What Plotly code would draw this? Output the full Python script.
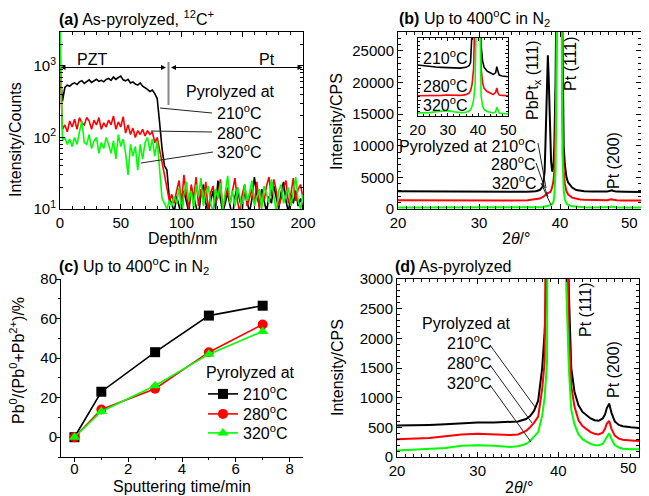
import plotly.graph_objects as go

W, H = 649, 496          # browser window
OFF = 8                  # default page body margin
FW, FH = W - OFF, H - OFF
FONT = "Liberation Sans, Arial, sans-serif"
BLACK, RED, GREEN = "#000000", "#ff0000", "#00ff00"

# ---------------- (a) SIMS depth profile, 12C+ ----------------
depth_a = list(range(0, 202, 2))
c210_a = [900, 320, 500, 540, 520, 560, 580, 550, 600, 620,
          570, 610, 640, 590, 620, 650, 610, 630, 600, 650,
          670, 630, 700, 650, 690, 720, 640, 620, 650, 580,
          600, 560, 540, 580, 520, 500, 470, 440, 460, 410,
          350, 160, 70, 40, 35, 14, 12, 9,
          15, 11, 8, 18, 12, 9, 20, 14, 10, 8, 16, 22, 12, 9, 13, 18, 10, 25, 14, 9,
          12, 17, 11, 8, 15, 20, 13, 10, 18, 12, 9, 14, 28, 16, 11, 19, 13, 9, 15, 12,
          21, 14, 10, 17, 24, 13, 9, 16, 12, 18, 11, 14, 10]
c280_a = [1200, 130, 150, 120, 170, 140, 180, 130, 190, 160,
          150, 190, 170, 130, 175, 150, 190, 130, 160, 140,
          175, 150, 200, 130, 165, 140, 195, 115, 150, 110,
          135, 100, 125, 110, 130, 105, 125, 110, 120, 85,
          100, 70, 45, 30, 20, 13, 16, 12,
          18, 25, 12, 30, 16, 10, 22, 14, 28, 11, 19, 13, 24, 9, 17, 21, 12, 15, 26, 10,
          14, 20, 12, 18, 27, 13, 9, 16, 22, 11, 15, 19, 12, 24, 10, 17, 13, 21, 28, 15,
          26, 18, 11, 14, 20, 25, 12, 16, 27, 13, 19, 22, 14]
c320_a = [3500, 90, 100, 80, 95, 75, 100, 80, 120, 170,
          85, 80, 110, 70, 90, 100, 60, 85, 70, 100,
          80, 60, 90, 50, 110, 75, 95, 60, 30, 80,
          55, 75, 35, 80, 50, 85, 100, 65, 95, 55,
          90, 40, 14, 12, 10, 13, 11, 15,
          12, 20, 9, 16, 24, 13, 18, 10, 22, 15, 27, 11, 17, 21, 12, 9, 19, 14, 23, 10,
          16, 29, 12, 18, 11, 20, 15, 9, 22, 13, 17, 25, 11, 14, 19, 10, 21, 16, 12, 26,
          14, 9, 18, 22, 12, 15, 20, 11, 17, 28, 13, 10, 16]
log_tickvals = [10, 100, 1000]
log_ticktext = ["10<sup>1</sup>", "10<sup>2</sup>", "10<sup>3</sup>"]
log_minor = [20, 30, 40, 50, 60, 70, 80, 90, 200, 300, 400, 500, 600, 700, 800, 900, 2000, 3000]

# 2-theta tick labels (the last one is drawn slightly inset, as in the original)
theta_tickvals = [20, 30, 40, 50]
theta_ticktext = ["20", "30", "40", ""]
theta_last_label = "50"

# ---------------- (b) XRD, up to 400 C in N2 ----------------
theta_b = [20, 22, 24, 26, 28, 30, 32, 34, 36, 37, 37.5, 37.9, 38.1, 38.2, 38.3, 38.4,
           38.5, 38.6, 38.7, 38.8, 38.9, 39.05, 39.2, 39.3, 39.45, 39.6, 39.9, 40.2,
           40.3, 40.45, 40.6, 40.8, 41.0, 41.5, 42, 42.5, 43, 44, 45, 45.8, 46.2, 46.4,
           46.6, 47, 48, 49, 50]
b210 = [2800, 2780, 2760, 2750, 2730, 2720, 2700, 2690, 2720, 2800, 3000, 3600, 6000, 10000,
        15000, 21000, 24300, 21000, 15000, 10000, 7500, 5900, 7000, 10000, 20000, 40000,
        100000, 40000, 22000, 10000, 7000, 5000, 4200, 3400, 3000, 2850, 2800, 2750, 2720,
        2750, 2900, 2950, 2850, 2750, 2720, 2700, 2700]
b280 = [1400, 1380, 1370, 1360, 1350, 1350, 1340, 1330, 1380, 1500, 1650, 1900, 2050, 2150,
        2250, 2400, 2500, 2550, 2600, 2700, 2900, 3500, 4500, 6000, 12000, 30000,
        100000, 30000, 15000, 6000, 4000, 2800, 2300, 1800, 1600, 1500, 1450, 1400, 1380,
        1400, 1500, 1550, 1450, 1380, 1350, 1350, 1340]
b320 = [220, 215, 210, 210, 210, 215, 210, 205, 220, 250, 280, 330, 360, 390,
        420, 440, 450, 500, 550, 600, 680, 800, 1200, 2000, 6000, 25000,
        100000, 25000, 9000, 3000, 1500, 900, 650, 420, 340, 300, 280, 250, 240,
        250, 330, 380, 300, 250, 230, 220, 220]

# inset of (b), arbitrary units
theta_in = [20, 22, 24, 26, 28, 30, 32, 34, 36, 37, 37.5, 38, 38.5, 39, 39.5, 40, 40.5, 41,
            41.5, 42, 43, 44, 45, 45.8, 46.2, 46.5, 46.8, 47, 48, 49, 50]
in210 = [65, 64, 63.5, 62.5, 62, 61.5, 61, 61, 62, 64, 68, 85, 150, 120, 200, 300, 200, 90,
         70, 62, 57, 55, 53, 55, 63, 58, 53, 52, 51, 50.5, 50]
in280 = [25.6, 25.5, 25.5, 25.8, 26, 26.5, 26, 26, 27, 29, 32, 40, 60, 90, 200, 300, 200, 60,
         42, 35, 31, 29, 27, 30, 35.5, 30, 27, 26.5, 26, 25.8, 25.6]
in320 = [3.4, 3.5, 4, 5, 6, 6.5, 5, 4, 4.5, 6, 8, 12, 20, 40, 150, 300, 150, 25,
         12, 8, 5.5, 4.5, 3.5, 5, 10.8, 8, 4.5, 3.5, 3, 2.5, 2.2]

# ---------------- (c) Pb0 fraction vs sputtering time ----------------
time_c = [0, 1, 3, 5, 7]
pb210 = [0, 23, 43, 61.5, 66.5]
pb280 = [0, 14, 24.5, 43, 57]
pb320 = [0, 13, 26, 42, 53.5]

# ---------------- (d) XRD, as-pyrolyzed ----------------
theta_d = [20, 22, 24, 26, 28, 30, 32, 34, 35, 36, 36.5, 37, 37.5, 38, 38.3, 38.6, 38.8, 39.0,
           39.3, 39.6, 40.0, 40.4, 40.7, 41.0, 41.3, 41.6, 42.0, 42.5, 43, 43.5, 44, 44.5, 45,
           45.5, 45.8, 46.0, 46.3, 46.6, 47.0, 47.5, 48, 49, 50]
d210 = [530, 530, 540, 550, 570, 580, 580, 590, 600, 640, 690, 780, 950, 1500, 2100, 3000,
        4500, 8000, 20000, 50000, 80000, 50000, 15000, 6000, 2800, 1500, 1100, 870, 760, 700,
        650, 620, 610, 650, 720, 820, 900, 740, 600, 540, 520, 500, 490]
d280 = [300, 310, 320, 350, 380, 390, 380, 370, 380, 440, 500, 580, 680, 1150, 1600, 2500,
        3500, 6000, 18000, 45000, 75000, 45000, 12000, 4500, 2200, 1200, 850, 620, 520, 470,
        420, 390, 380, 410, 480, 560, 610, 470, 360, 310, 290, 280, 270]
d320 = [110, 120, 130, 150, 190, 200, 190, 170, 180, 220, 270, 350, 420, 700, 1000, 1600,
        2300, 3200, 8000, 30000, 70000, 30000, 6000, 2800, 1500, 800, 550, 380, 300, 260,
        220, 200, 200, 220, 280, 340, 400, 300, 200, 160, 140, 130, 130]

temps = ["210<sup>o</sup>C", "280<sup>o</sup>C", "320<sup>o</sup>C"]


def px(x):
    return (x - OFF) / FW


def py(y):
    return 1 - (y - OFF) / FH


fig = go.Figure()

# (a)
for ys, col in [(c210_a, BLACK), (c280_a, RED), (c320_a, GREEN)]:
    fig.add_trace(go.Scatter(x=depth_a, y=ys, mode="lines", line=dict(color=col, width=1.6),
                             xaxis="x", yaxis="y", showlegend=False))
# (b)
for ys, col in [(b210, BLACK), (b280, RED), (b320, GREEN)]:
    fig.add_trace(go.Scatter(x=theta_b, y=ys, mode="lines", line=dict(color=col, width=2),
                             xaxis="x2", yaxis="y2", showlegend=False))
# inset
for ys, col in [(in210, BLACK), (in280, RED), (in320, GREEN)]:
    fig.add_trace(go.Scatter(x=theta_in, y=ys, mode="lines", line=dict(color=col, width=1.6),
                             xaxis="x3", yaxis="y3", showlegend=False))
# (c)
for ys, col, sym, name, lg in [(pb210, BLACK, "square", temps[0], "legend"),
                               (pb280, RED, "circle", temps[1], "legend2"),
                               (pb320, GREEN, "triangle-up", temps[2], "legend3")]:
    fig.add_trace(go.Scatter(x=time_c, y=ys, mode="lines+markers", name=name,
                             line=dict(color=col, width=1.6),
                             marker=dict(symbol=sym, size=10, color=col),
                             xaxis="x4", yaxis="y4", showlegend=True, legend=lg))
# (d)
for ys, col in [(d210, BLACK), (d280, RED), (d320, GREEN)]:
    fig.add_trace(go.Scatter(x=theta_d, y=ys, mode="lines", line=dict(color=col, width=2),
                             xaxis="x5", yaxis="y5", showlegend=False))

TICKFONT = dict(family=FONT, size=15, color="black")


def box_axis(domain, anchor, rng, **kw):
    d = dict(domain=domain, anchor=anchor, range=rng, showline=True, linecolor="black",
             linewidth=1, mirror="ticks", ticks="inside", ticklen=5, tickcolor="black",
             showgrid=False, zeroline=False, tickfont=TICKFONT, automargin=False)
    d.update(kw)
    return d


def legend_at(y):
    return dict(x=px(203), y=py(y), xanchor="left", yanchor="middle",
                bgcolor="rgba(0,0,0,0)", font=dict(family=FONT, size=16),
                itemwidth=30, tracegroupgap=0)


ya_dom = [py(209), py(32)]
yc_dom = [py(457), py(279)]

fig.update_layout(
    template="none",
    width=FW, height=FH, margin=dict(l=0, r=0, t=0, b=0, autoexpand=False),
    paper_bgcolor="white", plot_bgcolor="white",
    font=dict(family=FONT, size=16, color="black"),
    xaxis=box_axis([px(60), px(303)], "y", [0, 200], dtick=50,
                   minor=dict(dtick=10, ticks="inside", ticklen=3)),
    yaxis=box_axis(ya_dom, "x", [1, 3.475], type="log", tickmode="array",
                   tickvals=log_tickvals, ticktext=log_ticktext,
                   minor=dict(tickmode="array", tickvals=log_minor, ticks="inside", ticklen=3)),
    xaxis2=box_axis([px(398), px(641)], "y2", [20, 50], tickmode="array",
                    tickvals=theta_tickvals, ticktext=theta_ticktext,
                    minor=dict(dtick=1, ticks="inside", ticklen=3)),
    yaxis2=box_axis(ya_dom, "x2", [0, 28000], dtick=5000, tickformat="d",
                    minor=dict(dtick=1000, ticks="inside", ticklen=3)),
    xaxis3=box_axis([px(417.7), px(508.3)], "y3", [20, 50], dtick=10, ticklen=3,
                    minor=dict(dtick=2, ticks="inside", ticklen=2)),
    yaxis3=box_axis([py(115.7), py(37.7)], "x3", [0, 100], dtick=20, ticklen=3,
                    showticklabels=False, minor=dict(dtick=5, ticks="inside", ticklen=2)),
    xaxis4=dict(domain=[px(61), px(303)], anchor="y4", range=[-0.5, 8.5], dtick=2,
                showline=True, linecolor="black", linewidth=1, ticks="outside", ticklen=4,
                tickcolor="black", showgrid=False, zeroline=False, tickfont=TICKFONT,
                automargin=False, ticklabelstandoff=-6,
                minor=dict(dtick=1, ticks="outside", ticklen=2)),
    yaxis4=dict(domain=yc_dom, anchor="x4", range=[-10, 80], dtick=20, tick0=0,
                showline=True, linecolor="black", linewidth=1, ticks="outside", ticklen=4,
                tickcolor="black", showgrid=False, zeroline=False, tickfont=TICKFONT,
                automargin=False, ticklabelstandoff=-4,
                minor=dict(dtick=10, ticks="outside", ticklen=2)),
    xaxis5=box_axis([px(397), px(639)], "y5", [20, 50], tickmode="array",
                    tickvals=theta_tickvals, ticktext=theta_ticktext,
                    minor=dict(dtick=1, ticks="inside", ticklen=3)),
    yaxis5=box_axis(yc_dom, "x5", [0, 3000], dtick=500, tickformat="d",
                    minor=dict(dtick=100, ticks="inside", ticklen=3)),
    legend=legend_at(394),
    legend2=legend_at(414),
    legend3=legend_at(433),
)

ann = []


def text(t, x, y, xa="center", ya="middle", size=16, angle=0):
    ann.append(dict(text=t, x=px(x), y=py(y), xref="paper", yref="paper", xanchor=xa,
                    yanchor=ya, showarrow=False, textangle=angle,
                    font=dict(family=FONT, size=size, color="black")))


# panel titles
text("<b>(a)</b> As-pyrolyzed, <sup>12</sup>C<sup>+</sup>", 57, 18, xa="left")
text("<b>(b)</b> Up to 400<sup>o</sup>C in N<sub>2</sub>", 397, 18, xa="left")
text("<b>(c)</b> Up to 400<sup>o</sup>C in N<sub>2</sub>", 57, 266, xa="left")
text("<b>(d)</b> As-pyrolyzed", 393, 266, xa="left")

# inset last 2-theta tick labels
text(theta_last_label, 640, 222, xa="right", size=15)
text(theta_last_label, 639, 467, xa="right", size=15)

# axis titles
text("Depth/nm", 182, 238)
text("Intensity/Counts", 16, 140, angle=-90)
text("2<i>θ</i>/°", 516, 238)
text("Intensity/CPS", 337, 122, angle=-90)
text("Sputtering time/min", 182, 486)
text("Pb<sup>0</sup>/(Pb<sup>0</sup>+Pb<sup>2+</sup>)/%", 17, 361, angle=-90)
text("2<i>θ</i>/°", 519, 487)
text("Intensity/CPS", 337, 368, angle=-90)

# (a) labels
text("PZT", 92, 59)
text("Pt", 267, 59)
text("Pyrolyzed at", 230, 92)
for t, y in zip(temps, [112, 132, 151]):
    text(t, 215, y, xa="left")
# (b) labels
text("Pyrolyzed at " + temps[0], 538, 145, xa="right")
text(temps[1], 538, 163, xa="right")
text(temps[2], 539, 182, xa="right")
for t, y in zip(temps, [57, 85, 104]):
    text(t, 421, y, xa="left")
text("PbPt<sub>x</sub> (111)", 534, 80, angle=-90)
text("Pt (111)", 570, 64, angle=-90)
text("Pt (200)", 613, 161, angle=-90)
# (c) legend heading
text("Pyrolyzed at", 250, 372)
# (d) labels
text("Pyrolyzed at", 466, 323)
for t, y in zip(temps, [342, 362, 382]):
    text(t, 445, y, xa="left")
text("Pt (111)", 585, 310, angle=-90)
text("Pt (200)", 613, 370, angle=-90)

# arrows in (a)
for (xh, xt) in [(60.5, 166), (166, 60.5), (171, 302.5), (302.5, 171)]:
    ann.append(dict(x=px(xh), y=py(67.5), xref="paper", yref="paper", ax=xt - xh, ay=0,
                    axref="pixel", ayref="pixel", showarrow=True, arrowhead=2,
                    arrowsize=1, arrowwidth=1, arrowcolor="black", text=""))
fig.update_layout(annotations=ann)

shapes = []


def seg(x0, y0, x1, y1, color="#222222", width=1):
    shapes.append(dict(type="line", xref="paper", yref="paper", x0=px(x0), y0=py(y0),
                       x1=px(x1), y1=py(y1), line=dict(color=color, width=width)))


seg(168.5, 62, 168.5, 105, color="#888888", width=2)
seg(160, 108, 212, 113)
seg(151, 131, 212, 132)
seg(141, 163, 213, 152)
seg(538, 143, 546, 188)
seg(536, 163, 548, 197)
seg(541, 183, 551, 205)
seg(490, 345, 535, 407)
seg(490, 365, 532, 423)
seg(490, 385, 531, 442)
fig.update_layout(shapes=shapes)

fig.write_html("out.html")
